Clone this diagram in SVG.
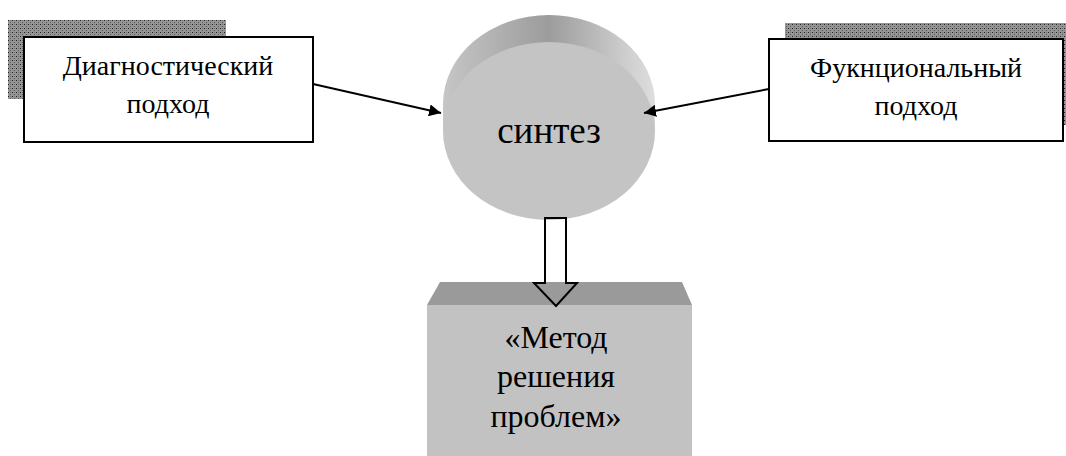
<svg xmlns="http://www.w3.org/2000/svg" width="1066" height="456" viewBox="0 0 1066 456">
<style>
.t{font-family:"Liberation Serif","Times New Roman",serif;fill:#000;text-anchor:middle}
.box{fill:#fff;stroke:#000;stroke-width:2}
.conn{stroke:#000;stroke-width:2;fill:none}
</style>
<defs>
<pattern id="dots" width="4" height="4" patternUnits="userSpaceOnUse">
<rect width="4" height="4" fill="#959595"/>
<rect width="1" height="1" fill="#1e1e1e"/>
<rect x="2" y="2" width="1" height="1" fill="#5a5a5a"/>
<rect x="2" y="0" width="1" height="1" fill="#777"/>
</pattern>
<linearGradient id="side" x1="0" y1="0" x2="1" y2="0">
<stop offset="0" stop-color="#c6c6c6"/>
<stop offset="0.5" stop-color="#9c9c9c"/>
<stop offset="0.85" stop-color="#cccccc"/>
<stop offset="1" stop-color="#dedede"/>
</linearGradient>
<marker id="ah" viewBox="0 0 10 10" refX="10" refY="5" markerWidth="6" markerHeight="6" orient="auto" markerUnits="strokeWidth">
<path d="M0,0 L10,5 L0,10 z" fill="#000"/>
</marker>
</defs>

<g id="diag">
<rect x="8" y="20" width="218" height="79" fill="url(#dots)"/>
<rect class="box" x="24" y="37" width="289" height="105"/>
<text class="t" x="168" y="75" font-size="28">Диагностический</text>
<text class="t" x="168" y="113" font-size="28">подход</text>
</g>

<g id="func">
<rect x="785" y="23" width="281" height="102" fill="url(#dots)"/>
<rect class="box" x="769" y="39" width="294" height="102"/>
<text class="t" x="916" y="77" font-size="28">Фукнциональный</text>
<text class="t" x="916" y="115" font-size="28">подход</text>
</g>

<g id="sintez">
<ellipse cx="549" cy="104" rx="106" ry="89" fill="url(#side)"/>
<rect x="443" y="104" width="212" height="27" fill="url(#side)"/>
<ellipse cx="549" cy="131" rx="106" ry="89" fill="#c4c4c4"/>
<text class="t" x="549" y="143" font-size="37">синтез</text>
</g>

<g id="metod">
<polygon points="440,282 682,282 692,305 427,305" fill="#9a9a9a"/>
<rect x="427" y="305" width="265" height="151" fill="#c2c2c2"/>
<text class="t" x="556" y="348" font-size="32">«Метод</text>
<text class="t" x="556" y="387" font-size="32">решения</text>
<text class="t" x="556" y="427" font-size="32">проблем»</text>
</g>

<g id="connectors">
<line class="conn" x1="313" y1="84" x2="441" y2="113" marker-end="url(#ah)"/>
<line class="conn" x1="769" y1="89" x2="644" y2="113" marker-end="url(#ah)"/>
<path d="M545,218 L566,218 L566,283 L577,283 L556,306 L534,283 L545,283 Z" fill="none" stroke="#000" stroke-width="2" stroke-linejoin="miter"/>
</g>
</svg>
